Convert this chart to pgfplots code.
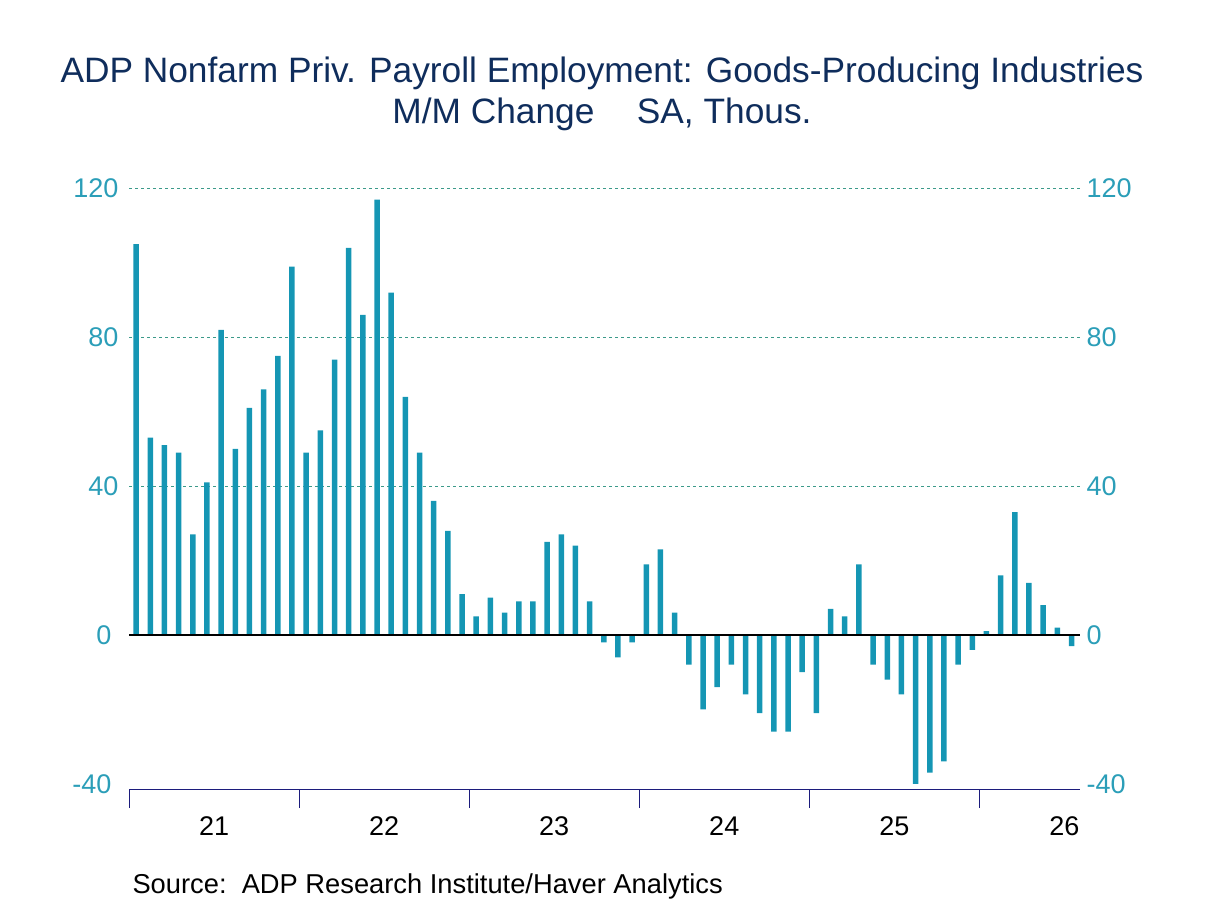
\documentclass[border=0pt]{standalone}
\usepackage{pgfplots}
\pgfplotsset{compat=1.18}
\usepackage{pgfplotstable}
\usepackage{fontspec}
\setmainfont{Liberation Sans}
\definecolor{barc}{HTML}{1596B4}
\definecolor{tickc}{HTML}{2B9EB8}
\definecolor{titlec}{HTML}{0F2D5C}
\definecolor{gridc}{HTML}{3C9A8A}
\definecolor{axisc}{HTML}{1C1C7C}
\pgfplotstableread{
x y
0 105
1 53
2 51
3 49
4 27
5 41
6 82
7 50
8 61
9 66
10 75
11 99
12 49
13 55
14 74
15 104
16 86
17 117
18 92
19 64
20 49
21 36
22 28
23 11
24 5
25 10
26 6
27 9
28 9
29 25
30 27
31 24
32 9
33 -2
34 -6
35 -2
36 19
37 23
38 6
39 -8
40 -20
41 -14
42 -8
43 -16
44 -21
45 -26
46 -26
47 -10
48 -21
49 7
50 5
51 19
52 -8
53 -12
54 -16
55 -40
56 -37
57 -34
58 -8
59 -4
60 1
61 16
62 33
63 14
64 8
65 2
66 -3
}\datatable
\begin{document}
\begin{tikzpicture}[x=1pt,y=1pt]
\useasboundingbox (0,0) rectangle (1208,-906);
\node[font=\fontsize{35.3}{40}\selectfont, text=titlec] at (602,-73) {ADP Nonfarm Priv. Payroll Employment: Goods-Producing Industries};
\node[font=\fontsize{35.3}{40}\selectfont, text=titlec] at (602,-114) {M/M Change\hspace{1.2em}SA, Thous.};
\node[font=\fontsize{27.3}{30}\selectfont, anchor=west] at (129,-886) {Source:\ \ ADP Research Institute/Haver Analytics};
\begin{axis}[
  at={(129pt,-789pt)}, anchor=south west,
  scale only axis, width=951pt, height=600.6pt,
  xmin=-0.5, xmax=66.6, ymin=-41.4, ymax=120,
  axis line style={draw=none},
  xtick={-0.5,11.5,23.5,35.5,47.5,59.5},
  xticklabels={},
  xtick pos=bottom,
  xtick align=outside,
  xtick style={axisc, line width=0.9pt},
  major tick length=19pt,
  extra x ticks={5.5,17.5,29.5,41.5,53.5,65.5},
  extra x tick labels={21,22,23,24,25,26},
  extra x tick style={major tick length=0pt, tick style={draw=none}, xticklabel style={yshift=-24pt, font=\fontsize{27}{30}\selectfont, text=black}},
  ytick={40,80,120},
  extra y ticks={-40,0},
  extra y tick style={grid=none, yticklabel style={font=\fontsize{27}{30}\selectfont, text=tickc, xshift=-7pt}},
  ymajorgrids,
  grid style={gridc, dashed, line width=0.6pt},
  ytick style={draw=none},
  yticklabel style={font=\fontsize{27}{30}\selectfont, text=tickc, xshift=-7pt},
  /pgf/number format/assume math mode=true,
  clip=false,
]
\addplot[ybar, bar width=5.5pt, fill=barc, draw=none] table[x=x,y=y] {\datatable};
\addplot[black, line width=1.1pt, mark=none] coordinates {(-0.5,0) (66.6,0)};
\addplot[axisc, line width=1pt, mark=none] coordinates {(-0.5,-41.4) (66.6,-41.4)};
\end{axis}
\begin{axis}[
  at={(129pt,-789pt)}, anchor=south west,
  scale only axis, width=951pt, height=600.6pt,
  xmin=-0.5, xmax=66.6, ymin=-41.4, ymax=120,
  axis line style={draw=none},
  xtick=\empty,
  ytick={-40,0,40,80,120},
  yticklabel pos=right,
  ytick style={draw=none},
  yticklabel style={font=\fontsize{27}{30}\selectfont, text=tickc, xshift=3pt},
  /pgf/number format/assume math mode=true,
]
\end{axis}
\end{tikzpicture}
\end{document}
